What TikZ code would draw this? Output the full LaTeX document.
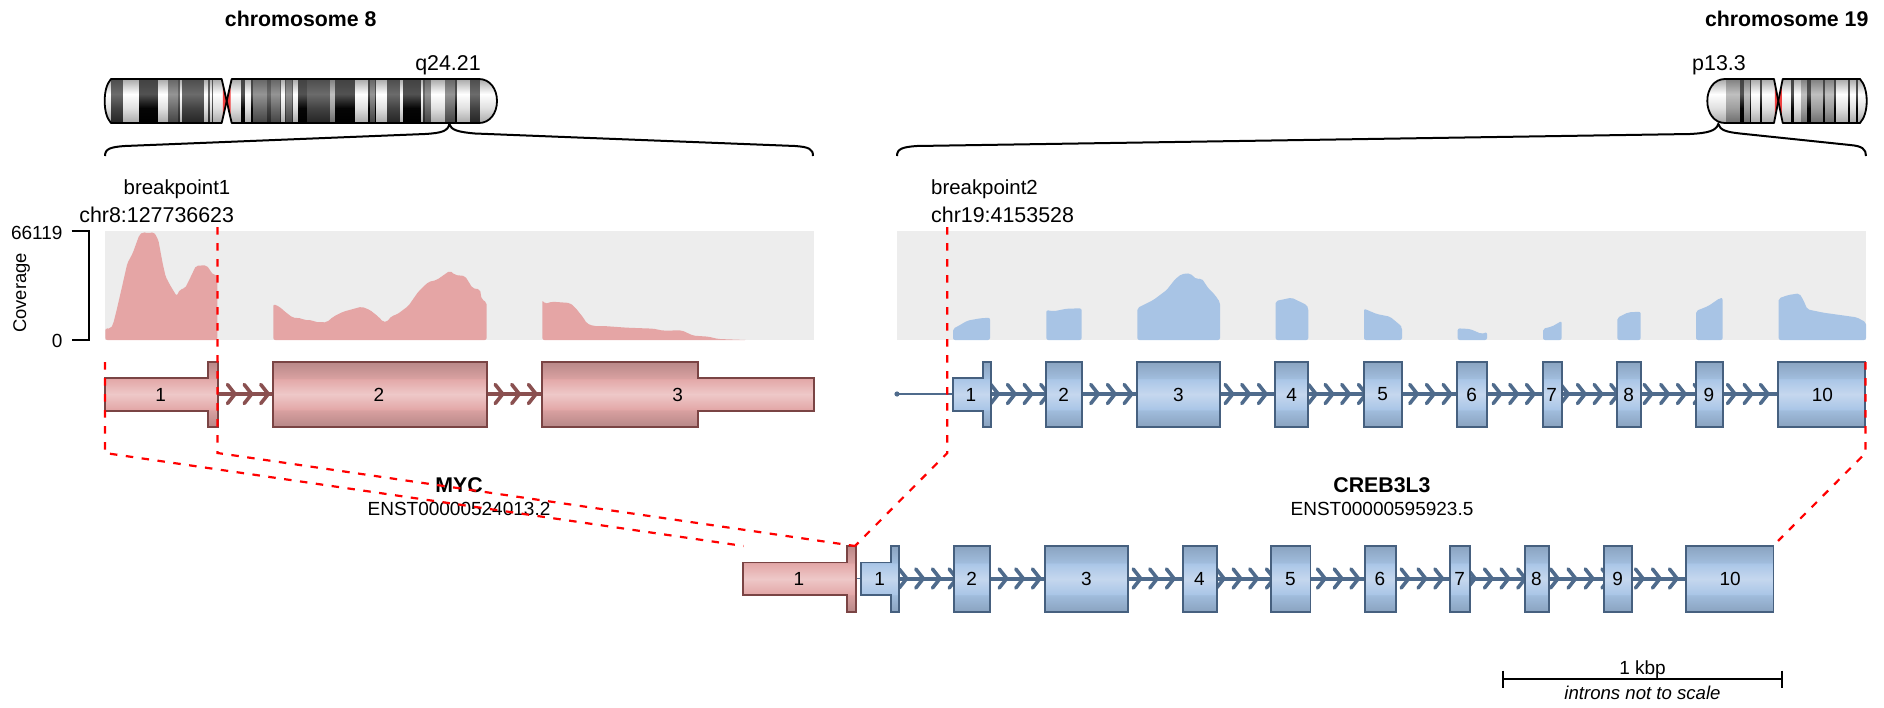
\documentclass[tikz,border=0pt]{standalone}
\usepackage{fontspec}
\setmainfont{Liberation Sans}
\definecolor{pT}{HTML}{B88888}\definecolor{pA}{HTML}{D8A0A0}\definecolor{pB}{HTML}{E3A8A8}\definecolor{pM}{HTML}{EEC8C8}
\definecolor{bT}{HTML}{8AA3C0}\definecolor{bA}{HTML}{A0BCDC}\definecolor{bB}{HTML}{AAC6E7}\definecolor{bM}{HTML}{C5D7EE}
\definecolor{pedge}{HTML}{7A4444}\definecolor{bedge}{HTML}{46607F}
\definecolor{pintron}{HTML}{8A5050}\definecolor{bintron}{HTML}{4F6B8C}
\definecolor{covP}{HTML}{E5A5A5}\definecolor{covB}{HTML}{A8C4E5}\definecolor{covbg}{HTML}{EDEDED}
\definecolor{cenred}{HTML}{F04040}
\pgfdeclareverticalshading{exP}{100bp}{color(0bp)=(pT);color(25bp)=(pT);color(37.5bp)=(pA);color(38.5bp)=(pB);color(50bp)=(pM);color(61.5bp)=(pB);color(62.5bp)=(pA);color(75bp)=(pT);color(100bp)=(pT)}
\pgfdeclareverticalshading{exB}{100bp}{color(0bp)=(bT);color(25bp)=(bT);color(37.5bp)=(bA);color(38.5bp)=(bB);color(50bp)=(bM);color(61.5bp)=(bB);color(62.5bp)=(bA);color(75bp)=(bT);color(100bp)=(bT)}
\newcommand\bandshade[5]{\pgfdeclareverticalshading{band#1}{100bp}{rgb(0bp)=(#5,#5,#5);rgb(25bp)=(#5,#5,#5);rgb(42bp)=(#4,#4,#4);rgb(58bp)=(#3,#3,#3);rgb(75bp)=(#2,#2,#2);rgb(100bp)=(#2,#2,#2)}}
\bandshade{W}{.66}{1}{.88}{.66}
\bandshade{L}{.5}{.75}{.62}{.42}
\bandshade{G}{.4}{.58}{.42}{.26}
\bandshade{D}{.3}{.42}{.26}{.14}
\bandshade{K}{.26}{.32}{.02}{0}
\newcommand\exon[5]{\begin{scope}\clip #5;\shade[shading=#1] (0,#3) rectangle (1884,#4);\end{scope}\draw[#2,line width=1.8,line join=miter] #5;}
\newcommand\bands[1]{\foreach \a/\b/\c in {#1}{\shade[shading=band\c] (\a,79) rectangle ({\b+.3},123);}}
\tikzset{
  lab/.style={font=\fontsize{21.4}{24}\selectfont,inner sep=0pt,text=black},
  mlab/.style={font=\fontsize{20.4}{24}\selectfont,inner sep=0pt,text=black},
  slab/.style={font=\fontsize{19}{22}\selectfont,inner sep=0pt,text=black},
  blab/.style={font=\fontsize{21.3}{24}\selectfont\bfseries,inner sep=0pt,text=black},
  chev/.style={line width=3.6,line cap=round,line join=round},
  redline/.style={red,line width=2.2,dash pattern=on 7.5pt off 8.5pt},
  brace/.style={black,line width=2},
  chromline/.style={black,line width=1.8,line join=round},
  covp/.style={fill=covP,rounded corners=2pt},covb/.style={fill=covB,rounded corners=2pt}
}
\begin{document}
\begin{tikzpicture}[x=1pt,y=-1pt]
\useasboundingbox (0,0) rectangle (1884,707);
% titles
\node[blab] (t8) at (300.7,18.5) {chromosome 8};
\node[blab] (t19) at (1786.7,18.5) {chromosome 19};
\node[lab] (q) at (448,65) {q24.21};
\node[lab] (p) at (1719,65) {p13.3};
% chromosome 8
\begin{scope}\clip (111,79) -- (221.7,79) -- (226.7,101) -- (221.7,123) -- (111,123) .. controls (106.5,118) and (104.7,110) .. (104.7,101) .. controls (104.7,92) and (106.5,84) .. (111,79) -- cycle;
\bands{105/111.7/W,111.7/123/D,123/139/W,139/158.3/K,158.3/168.3/W,168.3/178.3/G,178.3/180/D,180/182.7/W,182.7/204.3/D,204.3/208/W,208/210/D,210/212.7/W,212.7/213.5/D,213.5/224/W}
\fill[cenred] (222.8,82) -- (227,101) -- (222.8,120) -- cycle;
\end{scope}
\begin{scope}\clip (231.7,79) -- (479,79) .. controls (490,79) and (497,89) .. (497,101) .. controls (497,113) and (490,123) .. (479,123) -- (231.7,123) -- (226.7,101) -- cycle;
\bands{229/241.7/W,241.7/245/K,245/251/W,251/253.3/K,253.3/267.7/G,267.7/271/D,271/280/G,280/281.7/D,281.7/285/W,285/286.7/D,286.7/292/G,292/293.7/D,293.7/298/W,298/307.3/K,307.3/330/D,330/335.7/L,335.7/355/K,355/368.3/W,368.3/370/K,370/375.3/G,375.3/376.7/K,376.7/387.3/W,387.3/400/D,400/403.3/W,403.3/421/K,421/423.3/W,423.3/425/D,425/431.7/G,431.7/445.7/W,445.7/455.7/G,455.7/457.3/K,457.3/470/W,470/480/D,480/498/W}
\fill[cenred] (230.6,82) -- (226.4,101) -- (230.6,120) -- cycle;
\end{scope}
\draw[chromline] (111,79) -- (221.7,79) -- (226.7,101) -- (221.7,123) -- (111,123) .. controls (106.5,118) and (104.7,110) .. (104.7,101) .. controls (104.7,92) and (106.5,84) .. (111,79) -- cycle;
\draw[chromline] (231.7,79) -- (479,79) .. controls (490,79) and (497,89) .. (497,101) .. controls (497,113) and (490,123) .. (479,123) -- (231.7,123) -- (226.7,101) -- cycle;
% chromosome 19
\begin{scope}\clip (1725,79) -- (1774,79) -- (1778.3,101) -- (1774,123) -- (1725,123) .. controls (1714,123) and (1707.3,113) .. (1707.3,101) .. controls (1707.3,89) and (1714,79) .. (1725,79) -- cycle;
\bands{1707/1726/W,1726/1740.7/L,1740.7/1744/K,1744/1750/L,1750/1751.7/K,1751.7/1760/W,1760/1762.3/K,1762.3/1776/W}
\fill[cenred] (1774.9,82) -- (1778.6,101) -- (1774.9,120) -- cycle;
\end{scope}
\begin{scope}\clip (1782.7,79) -- (1860,79) .. controls (1864.5,84) and (1866.7,92) .. (1866.7,101) .. controls (1866.7,110) and (1864.5,118) .. (1860,123) -- (1782.7,123) -- (1778.3,101) -- cycle;
\bands{1779/1791.7/W,1791.7/1794/K,1794/1801.7/W,1801.7/1807.3/L,1807.3/1811.7/K,1811.7/1823.3/L,1823.3/1825.3/K,1825.3/1834.7/L,1834.7/1836.7/K,1836.7/1848.3/W,1848.3/1850.7/K,1850.7/1856.7/W,1856.7/1858.7/K,1858.7/1868/W}
\fill[cenred] (1781.8,82) -- (1778,101) -- (1781.8,120) -- cycle;
\end{scope}
\draw[chromline] (1725,79) -- (1774,79) -- (1778.3,101) -- (1774,123) -- (1725,123) .. controls (1714,123) and (1707.3,113) .. (1707.3,101) .. controls (1707.3,89) and (1714,79) .. (1725,79) -- cycle;
\draw[chromline] (1782.7,79) -- (1860,79) .. controls (1864.5,84) and (1866.7,92) .. (1866.7,101) .. controls (1866.7,110) and (1864.5,118) .. (1860,123) -- (1782.7,123) -- (1778.3,101) -- cycle;
% braces
\coordinate (b8l) at (105,156);\coordinate (b8m) at (449.3,124);\coordinate (b8r) at (813,156);
\coordinate (b19l) at (897,156);\coordinate (b19m) at (1718.3,124);\coordinate (b19r) at (1866,156);
\draw[brace] (b8l) .. controls (105,149) and (110,147) .. (125,146) -- (425,134) .. controls (442,133) and (448,131) .. (b8m) .. controls (451,130) and (458,132) .. (475,133.5) -- (795,146) .. controls (809,147) and (813,149) .. (b8r);
\draw[brace] (b19l) .. controls (897,149) and (902,147) .. (917,146) -- (1690,134) .. controls (1708,133) and (1716,131) .. (b19m) .. controls (1720,130) and (1726,132) .. (1740,133.5) -- (1850,145) .. controls (1862,146) and (1866,149) .. (b19r);
% breakpoint labels
\node[mlab] (bp1) at (177,189.5) {breakpoint1};
\node[lab] (bp1c) at (156.7,214.5) {chr8:127736623};
\node[mlab,anchor=west] (bp2) at (931,189.5) {breakpoint2};
\node[lab,anchor=west] (bp2c) at (931,214.5) {chr19:4153528};
% coverage background
\fill[covbg] (105,231) rectangle (814,340);
\fill[covbg] (897,231) rectangle (1866,340);
\begin{scope}[shift={(0,220)},x=.33333pt,y=-.33333pt]
\fill[covp] (316,360)--(316,325)--(332,326)--(340,310)--(350,270)--(365,205)--(382,130)--(398,100)--(418,45)--(428,36)--(445,40)--(462,36)--(475,60)--(488,130)--(497,170)--(510,195)--(530,228)--(540,208)--(555,205)--(570,175)--(588,137)--(620,136)--(640,165)--(652,165)--(652,360)--cycle;
\fill[covp] (820,360)--(820,252)--(838,260)--(855,275)--(878,293)--(905,295)--(915,301)--(935,300)--(945,306)--(980,307)--(1000,290)--(1030,275)--(1085,260)--(1110,270)--(1135,290)--(1150,306)--(1160,306)--(1175,288)--(1190,284)--(1225,258)--(1255,215)--(1285,186)--(1310,180)--(1350,152)--(1365,165)--(1395,168)--(1418,205)--(1440,208)--(1445,238)--(1460,247)--(1460,360)--cycle;
\end{scope}
\begin{scope}[shift={(480,220)},x=.33333pt,y=-.33333pt]
\fill[covp] (187,360)--(187,240)--(195,252)--(215,245)--(270,249)--(285,262)--(310,293)--(320,310)--(340,318)--(370,318)--(440,323)--(520,326)--(550,332)--(605,331)--(640,347)--(685,350)--(715,357)--(800,360)--cycle;
\end{scope}
\begin{scope}[shift={(880,220)},x=.33333pt,y=-.33333pt]
\fill[covb] (219,360)--(219,326)--(235,318)--(262,302)--(300,295)--(330,293)--(330,360)--cycle;
\fill[covb] (499,360)--(499,270)--(520,274)--(560,266)--(605,265)--(605,360)--cycle;
\fill[covb] (772,360)--(772,264)--(790,255)--(820,240)--(860,210)--(885,178)--(905,162)--(930,160)--(950,178)--(965,175)--(985,205)--(1005,225)--(1020,247)--(1020,360)--cycle;
\fill[covb] (1187,360)--(1187,243)--(1235,233)--(1280,255)--(1285,265)--(1285,360)--cycle;
\fill[covb] (1452,360)--(1452,266)--(1490,282)--(1530,290)--(1560,315)--(1566,322)--(1566,360)--cycle;
\end{scope}
\begin{scope}[shift={(1380,220)},x=.33333pt,y=-.33333pt]
\fill[covb] (233,360)--(233,325)--(270,327)--(305,342)--(321,336)--(321,360)--cycle;
\fill[covb] (489,360)--(489,326)--(515,320)--(545,303)--(545,360)--cycle;
\fill[covb] (712,360)--(712,293)--(745,277)--(782,275)--(782,360)--cycle;
\fill[covb] (948,360)--(948,273)--(985,258)--(1020,234)--(1028,234)--(1028,360)--cycle;
\fill[covb] (1196,360)--(1196,235)--(1225,225)--(1258,220)--(1270,240)--(1282,268)--(1330,278)--(1380,285)--(1430,292)--(1458,307)--(1458,360)--cycle;
\end{scope}
% axis
\coordinate (ax1) at (71.7,231);\coordinate (ax2) at (89.3,231);\coordinate (ax3) at (89.3,340);\coordinate (ax4) at (71.7,340);
\draw[black,line width=2] (ax1) -- (ax2) -- (ax3) -- (ax4);
\node[slab,anchor=east] (ymax) at (62.7,233) {66119};
\node[slab,anchor=east] (ymin) at (62.7,341) {0};
\node[slab,rotate=90,font=\fontsize{18.4}{22}\selectfont] (cov) at (21.7,293) {Coverage};
% introns top
\draw[pintron,line width=4] (218,394) -- (273,394) (487,394) -- (542,394);
\foreach \x in {235,251.7,268.3,502.7,519.3,536}{\draw[pintron,chev] (\x-7.5,384.5) -- (\x,394) -- (\x-7.5,403.5);}
\draw[bintron,line width=1.8] (897,394) -- (953,394);
\fill[bintron] (897,394) circle (2.6);
\draw[bintron,line width=4] (990.7,394) -- (1045.7,394) (1082,394) -- (1136.7,394) (1220,394) -- (1275,394) (1308.3,394) -- (1363.7,394) (1402.3,394) -- (1457.3,394) (1487.3,394) -- (1542.7,394) (1562.3,394) -- (1617,394) (1641.3,394) -- (1696,394) (1723.3,394) -- (1778.3,394);
\foreach \x in {998.3,1015,1031.7,1048.3,1098.3,1115,1131.7,1232.7,1249.3,1266,1316,1332.7,1349.3,1366,1417.3,1434,1450.7,1500.7,1517.3,1534,1568.3,1585,1601.7,1618.3,1651.7,1668.3,1685,1701.7,1735,1751.7,1768}{\draw[bintron,chev] (\x-7.5,384.5) -- (\x,394) -- (\x-7.5,403.5);}
% exons top MYC
\exon{exP}{pedge}{361.7}{426.7}{(105,377.7) -- (208.3,377.7) -- (208.3,361.7) -- (217.7,361.7) -- (217.7,426.7) -- (208.3,426.7) -- (208.3,410.7) -- (105,410.7) -- cycle}
\exon{exP}{pedge}{361.7}{426.7}{(273,361.7) rectangle (487,426.7)}
\exon{exP}{pedge}{361.7}{426.7}{(542,361.7) -- (698,361.7) -- (698,377.7) -- (814,377.7) -- (814,410.7) -- (698,410.7) -- (698,426.7) -- (542,426.7) -- cycle}
% exons top CREB3L3
\exon{exB}{bedge}{361.7}{426.7}{(952.7,377.7) -- (982.7,377.7) -- (982.7,361.7) -- (990.7,361.7) -- (990.7,426.7) -- (982.7,426.7) -- (982.7,410.7) -- (952.7,410.7) -- cycle}
\foreach \a/\b in {1045.7/1082,1136.7/1220,1275/1308.3,1363.7/1402.3,1457.3/1487.3,1542.7/1562.3,1617/1641.3,1696/1723.3,1778.3/1865}{\exon{exB}{bedge}{361.7}{426.7}{(\a,361.7) rectangle (\b,426.7)}}
\foreach \n/\x in {1/160.7,2/379,3/677.7}{\node[slab] (mycx\n) at (\x,394.5) {\n};}
\foreach \n/\x in {1/971,2/1063.7,3/1178.3,4/1291.7,5/1382.7,6/1471.7,7/1551.7,8/1628.7,9/1709,10/1822.3}{\node[slab] (crebx\n) at (\x,394.5) {\n};}
% gene labels
\node[blab] (myc) at (459,485) {MYC};
\node[slab] (myct) at (459,509) {ENST00000524013.2};
\node[blab] (creb) at (1382,485) {CREB3L3};
\node[slab] (crebt) at (1382,509) {ENST00000595923.5};
% fusion introns
\draw[bintron,line width=1.8] (856,578.5) -- (861,578.5);
\draw[bintron,line width=4] (899,578.5) -- (953.7,578.5) (990,578.5) -- (1045,578.5) (1128.3,578.5) -- (1183,578.5) (1216.7,578.5) -- (1271.3,578.5) (1310.4,578.5) -- (1365,578.5) (1395.7,578.5) -- (1450,578.5) (1470.3,578.5) -- (1524.7,578.5) (1548.8,578.5) -- (1603.9,578.5) (1631.8,578.5) -- (1686.2,578.5);
\foreach \x in {906.7,923.3,940,956.7,1006.7,1023.3,1040,1140.7,1157.3,1174,1224,1240.7,1257.3,1274,1325,1341.8,1358.5,1408.7,1425.6,1442.4,1475,1492,1508.6,1525.3,1558,1575.6,1592.8,1609.5,1643,1660,1677}{\draw[bintron,chev] (\x-7.5,569) -- (\x,578.5) -- (\x-7.5,588);}
% fusion exons
\exon{exP}{pedge}{546}{611.7}{(743,562.4) -- (847.3,562.4) -- (847.3,546) -- (856,546) -- (856,611.7) -- (847.3,611.7) -- (847.3,595) -- (743,595) -- cycle}
\exon{exB}{bedge}{546}{611.7}{(861,562.4) -- (891,562.4) -- (891,546) -- (899,546) -- (899,611.7) -- (891,611.7) -- (891,595) -- (861,595) -- cycle}
\foreach \a/\b in {953.7/990,1045/1128.3,1183/1216.7,1271.3/1310.4,1365/1395.7,1450/1470.3,1524.7/1548.8,1603.9/1631.8,1686.2/1773.4}{\exon{exB}{bedge}{546}{611.7}{(\a,546) rectangle (\b,611.7)}}
\node[slab] (fp1) at (799,579) {1};
\foreach \n/\x in {1/879.7,2/971.7,3/1086.3,4/1199.3,5/1290.5,6/1380,7/1459.6,8/1536.5,9/1617.7,10/1730.2}{\node[slab] (fb\n) at (\x,579) {\n};}
% dashed guides
\coordinate (a1) at (105,362);\coordinate (a2) at (105,453);\coordinate (a3) at (743.5,546);
\coordinate (c1) at (217.5,227);\coordinate (c2) at (217.5,453);\coordinate (c3) at (855,546);
\coordinate (d1) at (947.3,227);\coordinate (d2) at (947.3,453);
\coordinate (e1) at (1865.5,362);\coordinate (e2) at (1865.5,453);\coordinate (e3) at (1778,541);
\draw[redline] (a1) -- (a2) -- (a3);
\draw[redline] (c1) -- (c2) -- (c3);
\draw[redline] (d1) -- (d2) -- (c3);
\draw[redline] (e1) -- (e2) -- (e3);
% scale bar
\coordinate (s1) at (1503,679);\coordinate (s2) at (1782,679);
\draw[black,line width=2] (s1) -- (s2);
\draw[black,line width=2] ([yshift=8.5pt]s1) -- ([yshift=-8.5pt]s1) ([yshift=8.5pt]s2) -- ([yshift=-8.5pt]s2);
\node[slab] (kbp) at (1642.5,670) {1 kbp};
\node[slab,font=\fontsize{18.6}{22}\selectfont\itshape] (scale) at (1642.5,693) {introns not to scale};
\end{tikzpicture}
\end{document}
